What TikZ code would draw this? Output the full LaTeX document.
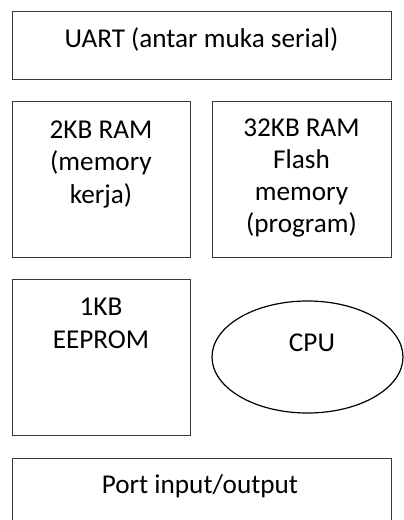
\documentclass[tikz,border=0pt]{standalone}
\usepackage{fontspec}
\setmainfont{Carlito}
\usetikzlibrary{shapes.geometric}
\begin{document}
\begin{tikzpicture}[x=1pt,y=-1pt,
  boxst/.style={draw=black!78,line width=1.2pt,rectangle,inner sep=0pt,anchor=north west},
  txt/.style={anchor=base,inner sep=0pt,font=\fontsize{27.2}{32.5}\selectfont,text=black}]
\useasboundingbox (0,0) rectangle (404,520);
\fill[white] (0,0) rectangle (404,520);
\clip (0,0) rectangle (404,520);
% boxes
\node[boxst,minimum width=379pt,minimum height=68pt] (uart) at (12,11) {};
\node[boxst,minimum width=178pt,minimum height=156pt] (ram) at (12,101) {};
\node[boxst,minimum width=179pt,minimum height=156pt] (flash) at (212,101) {};
\node[boxst,minimum width=178pt,minimum height=156pt] (eeprom) at (12,279) {};
\node[boxst,minimum width=379pt,minimum height=90pt] (port) at (12,458) {};
\node[draw=black,line width=1.2pt,ellipse,inner sep=0pt,minimum width=191pt,minimum height=112pt] (cpu) at (307.5,357) {};
% texts
\node[txt] (t1) at (201.5,47) {UART (antar muka serial)};
\node[txt] (t2a) at (101,138) {2KB RAM};
\node[txt] (t2b) at (101,170.5) {(memory};
\node[txt] (t2c) at (101,203) {kerja)};
\node[txt] (t3a) at (301.5,136) {32KB RAM};
\node[txt] (t3b) at (301.5,168) {Flash};
\node[txt] (t3c) at (301.5,200) {memory};
\node[txt] (t3d) at (301.5,232) {(program)};
\node[txt] (t4a) at (101,315) {1KB};
\node[txt] (t4b) at (101,348.5) {EEPROM};
\node[txt] (t5) at (312,351.5) {CPU};
\node[txt] (t6) at (200,493) {Port input/output};
\end{tikzpicture}
\end{document}
